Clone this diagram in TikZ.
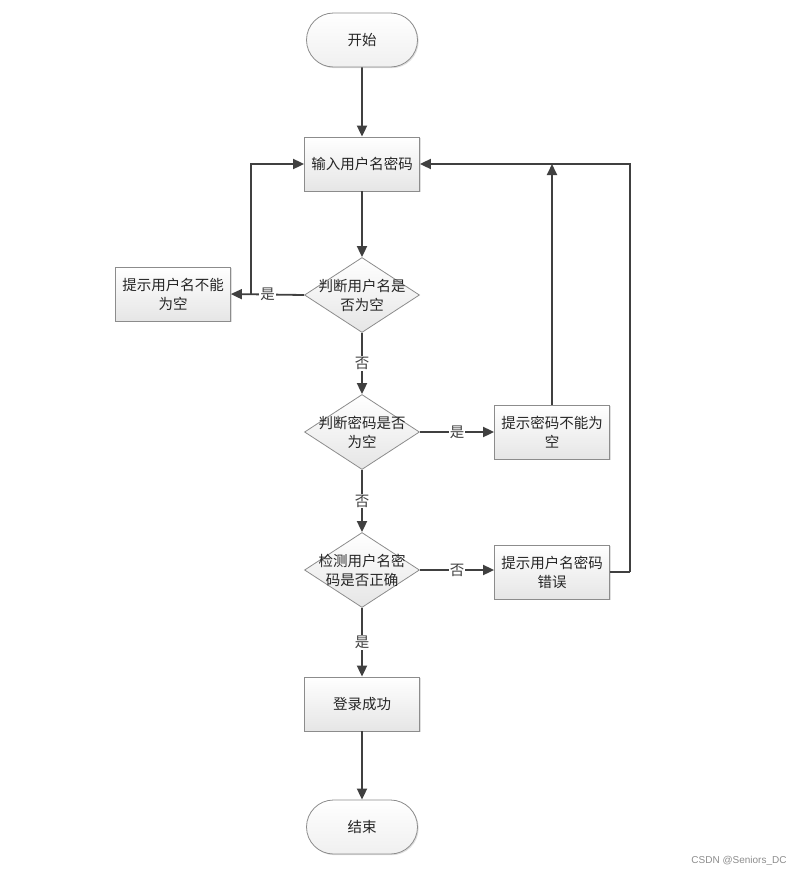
\documentclass[tikz,border=0pt]{standalone}
\usepackage{fontspec}
\newfontfamily\cjk{Noto Sans CJK SC}
\newfontfamily\wmfont{Liberation Sans}
\usetikzlibrary{arrows.meta,shapes.geometric,shapes.misc,shadows}
\definecolor{linegray}{HTML}{404040}
\definecolor{boxline}{HTML}{8C8C8C}
\tikzset{
	box/.style={draw=boxline, line width=0.8pt, top color=white, bottom color=black!10,
		drop shadow={opacity=0.25, shadow xshift=1.2pt, shadow yshift=-1.2pt},
		minimum width=115pt, minimum height=54pt, align=center, inner sep=2pt},
	term/.style={box, rounded rectangle, top color=white, bottom color=black!6},
	decision/.style={draw=boxline, line width=0.8pt, top color=white, bottom color=black!10,
		diamond, minimum width=115pt, minimum height=75pt, inner sep=0pt},
	flow/.style={line width=1.8pt, color=linegray, -{Triangle[length=11pt,width=10pt]}},
	tag/.style={fill=white, inner sep=1pt}
}
\begin{document}
\begin{tikzpicture}[x=1pt, y=-1pt, font=\cjk\fontsize{14.5}{19}\selectfont, text=black!85]
			%%%%% START %%%%%
			\useasboundingbox (0,0) rectangle (800,873);
			
			\node[term] (start) at (362, 40) {开始};
			\node[box] (input) at (362, 164) {输入用户名密码};
			
			\node[decision, label={[align=center]center:判断用户名是\\否为空}] (chkname) at (362, 295) {};
			\node[box] (noname) at (173, 294) {提示用户名不能\\为空};
			
			\node[decision, label={[align=center]center:判断密码是否\\为空}] (chkpwd) at (362, 432) {};
			\node[box] (nopwd) at (552, 432) {提示密码不能为\\空};
			
			\node[decision, label={[align=center]center:检测用户名密\\码是否正确}] (chkboth) at (362, 570) {};
			\node[box] (wrong) at (552, 572) {提示用户名密码\\错误};
			
			\node[box] (ok) at (362, 704) {登录成功};
			\node[term] (stop) at (362, 827) {结束};
			
			\draw[flow] (start) -- (input);
			\draw[flow] (input) -- (chkname);
			\draw[flow] (chkname.west) -- node[tag] {是} (noname.east);
			\coordinate (back1) at (251, 294);
			\draw[flow] (back1) |- (input.west);
			
			\draw[flow] (chkname) -- node[tag] {否} (chkpwd);
			\draw[flow] (chkpwd.east) -- node[tag] {是} (nopwd.west |- chkpwd.east);
			\draw[flow] (nopwd.north) -- (nopwd.north |- input.east);
			
			\draw[flow] (chkpwd) -- node[tag] {否} (chkboth);
			\draw[flow] (chkboth.east) -- node[tag] {否} (wrong.west |- chkboth.east);
			\coordinate (back2) at (630, 572);
			\draw[flow, -] (wrong.east) -- (back2);
			\draw[flow] (back2) |- (input.east);
			
			\draw[flow] (chkboth) -- node[tag] {是} (ok);
			\draw[flow] (ok) -- (stop);
			
			\node[font=\wmfont\fontsize{10}{12}\selectfont, text=black!45] (mark) at (739, 861) {CSDN @Seniors\_DC};
			%%%%% END %%%%%
		\end{tikzpicture}
\end{document}
